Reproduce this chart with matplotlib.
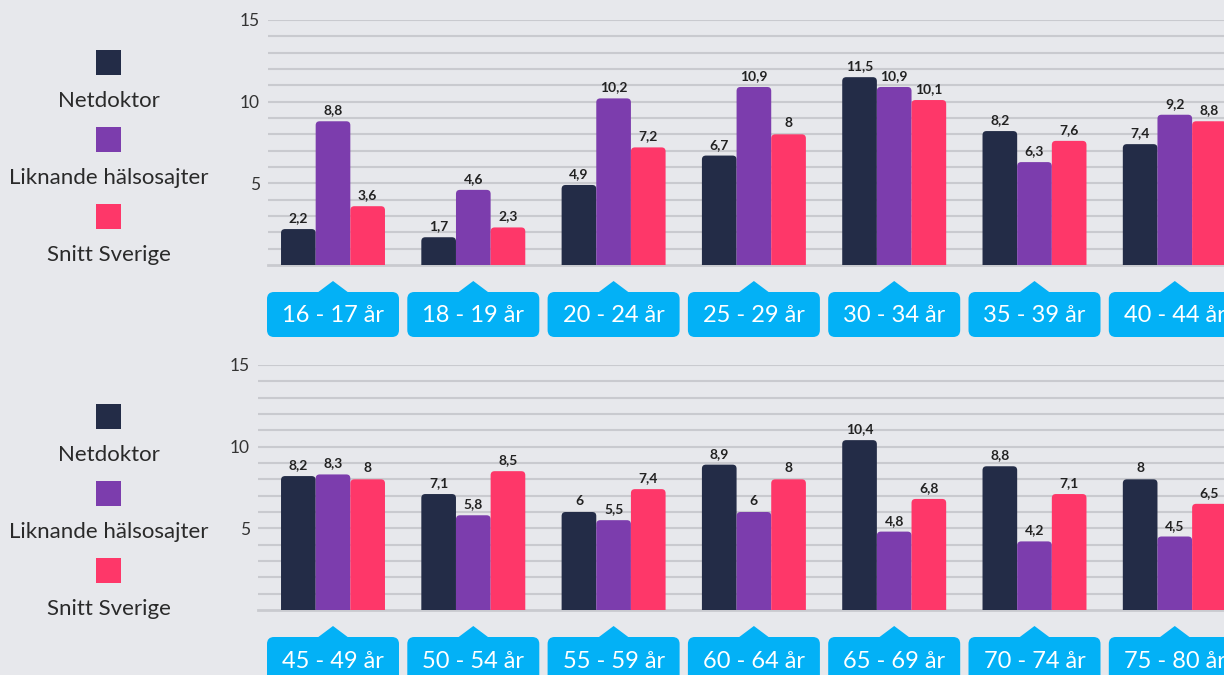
import matplotlib
matplotlib.use("Agg")
import matplotlib.pyplot as plt
from matplotlib.patches import FancyBboxPatch, Polygon
import numpy as np

plt.rcParams['font.family'] = ['Lato', 'DejaVu Sans']

# data
serier = ["Netdoktor", "Liknande hälsosajter", "Snitt Sverige"]
farger = ["#232c47", "#7c3dad", "#fe3769"]

aldrar_topp = ["16 - 17 år", "18 - 19 år", "20 - 24 år", "25 - 29 år",
               "30 - 34 år", "35 - 39 år", "40 - 44 år"]
netdoktor_topp = [2.2, 1.7, 4.9, 6.7, 11.5, 8.2, 7.4]
liknande_topp = [8.8, 4.6, 10.2, 10.9, 10.9, 6.3, 9.2]
sverige_topp = [3.6, 2.3, 7.2, 8, 10.1, 7.6, 8.8]

aldrar_botten = ["45 - 49 år", "50 - 54 år", "55 - 59 år", "60 - 64 år",
                 "65 - 69 år", "70 - 74 år", "75 - 80 år"]
netdoktor_botten = [8.2, 7.1, 6, 8.9, 10.4, 8.8, 8]
liknande_botten = [8.3, 5.8, 5.5, 6, 4.8, 4.2, 4.5]
sverige_botten = [8, 8.5, 7.4, 8, 6.8, 7.1, 6.5]

BG = "#e7e8ec"
BLA = "#03b1f6"
W, H = 1224, 675
STEG = 140.3      # pixlar mellan grupper
X0 = 333          # pixel for forsta gruppen
BREDD = 0.247     # stapelbredd i dataenheter

fig = plt.figure(figsize=(W / 100, H / 100), dpi=100, facecolor=BG)

# overlay i pixelkoordinater for legend och flikar
ov = fig.add_axes([0, 0, 1, 1], zorder=0)
ov.set_xlim(0, W)
ov.set_ylim(H, 0)
ov.axis("off")


def rita_panel(kategorier, varden, vanster, topp, botten):
    # topp = pixel y for 15, botten = pixel y for 0
    ax = fig.add_axes([vanster / W, 1 - botten / H, (W - vanster) / W, (botten - topp) / H], zorder=2)
    ax.set_facecolor("none")
    ax.set_xlim((vanster - X0) / STEG, (W - X0) / STEG)
    ax.set_ylim(0, 15)
    px_y = (botten - topp) / 15.0
    x = np.arange(len(kategorier))
    for k, (v, f) in enumerate(zip(varden, farger)):
        pos = x + (k - 1) * BREDD
        staplar = ax.bar(pos, v, width=BREDD, color=f, zorder=3)
        # byt till staplar med rundade hörn upptill
        for st in staplar:
            bx, bw, bh = st.get_x(), st.get_width(), st.get_height()
            st.remove()
            ax.add_patch(FancyBboxPatch((bx, -1), bw, bh + 1,
                                        boxstyle="round,pad=0,rounding_size=%f" % (4 / STEG),
                                        mutation_aspect=STEG / px_y,
                                        fc=f, ec="none", zorder=3))
        for xi, vi in zip(pos, v):
            ax.text(xi, vi + 0.3, f"{vi:g}".replace(".", ","), ha="center", va="bottom",
                    fontsize=10, fontweight="bold", color="#222222", zorder=4)
    ax.set_yticks(range(1, 16))
    ax.set_yticklabels([str(t) if t % 5 == 0 else "" for t in range(1, 16)])
    ax.grid(axis="y", color="#c9cacf", lw=1.5, zorder=1)
    ax.axhline(0, color="#c9cacf", lw=2, zorder=2, clip_on=False)
    ax.tick_params(axis="y", length=0, labelsize=12.5, labelcolor="#333333", pad=6)
    ax.tick_params(axis="x", bottom=False, labelbottom=False)
    for s in ax.spines.values():
        s.set_visible(False)

    # flikar under varje grupp
    for i, namn in enumerate(kategorier):
        cx = X0 + i * STEG
        ytop = botten + 32
        ov.add_patch(FancyBboxPatch((cx - 61, ytop), 122, 35,
                                    boxstyle="round,pad=5,rounding_size=7",
                                    fc=BLA, ec="none"))
        ov.add_patch(Polygon([(cx - 16, ytop - 4), (cx, ytop - 16), (cx + 16, ytop - 4)],
                             closed=True, fc=BLA, ec="none"))
        ov.text(cx, ytop + 19, namn, ha="center", va="center", color="white", fontsize=17)
    return ax


def rita_legend(y0):
    for k, (namn, f) in enumerate(zip(serier, farger)):
        y = y0 + k * 77
        ov.add_patch(plt.Rectangle((96, y), 25, 25, fc=f, ec="none"))
        ov.text(108.5, y + 51, namn, ha="center", va="center", fontsize=16, color="#2a2a2a")


rita_panel(aldrar_topp, [netdoktor_topp, liknande_topp, sverige_topp], 268, 20, 265)
rita_panel(aldrar_botten, [netdoktor_botten, liknande_botten, sverige_botten], 258, 365, 610)
rita_legend(50)
rita_legend(404)

fig.savefig("out.png", dpi=100, facecolor=BG)
